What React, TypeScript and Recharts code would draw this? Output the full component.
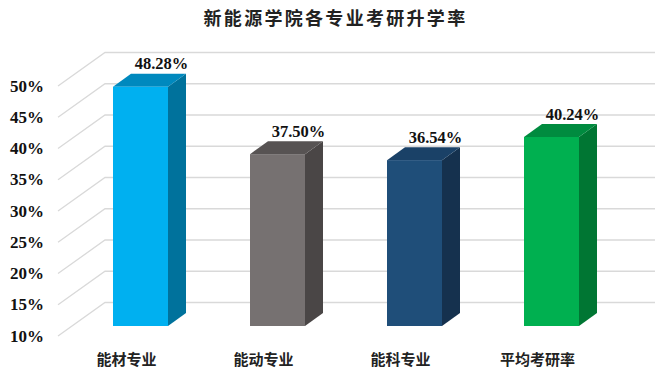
import React from "react";
import {
  BarChart,
  Bar,
  XAxis,
  YAxis,
  CartesianGrid,
  LabelList,
} from "recharts";

const categories = ["能材专业", "能动专业", "能科专业", "平均考研率"];
const rates = [48.28, 37.5, 36.54, 40.24];
const yTicks = [10, 15, 20, 25, 30, 35, 40, 45, 50];

// front / top / side colours per bar
const faceColors = ["#00B0F0", "#767171", "#1F4E79", "#00B050"];
const topColors = ["#0089BE", "#575353", "#1A4167", "#008B3F"];
const sideColors = ["#00729C", "#4A4646", "#15314E", "#007633"];

const data = categories.map((name, i) => ({ name, rate: rates[i] }));

const DX = 18; // depth offset of the boxes
const DY = 13;

const serif = "Liberation Serif";
const cjk = "Noto Sans CJK SC";

const Box3D = (props: any) => {
  const { x, y, width, height, index } = props;
  const r = x + width;
  const b = y + height;
  return (
    <g>
      <path
        d={`M${r},${y} L${r + DX},${y - DY} L${r + DX},${b - DY} L${r},${b} Z`}
        fill={sideColors[index]}
      />
      <path
        d={`M${x},${y} L${x + DX},${y - DY} L${r + DX},${y - DY} L${r},${y} Z`}
        fill={topColors[index]}
      />
      <rect x={x} y={y} width={width} height={height} fill={faceColors[index]} />
    </g>
  );
};

const gridLine = (p: any) => {
  const y = p.y1;
  return (
    <path
      key={p.key}
      d={`M58,${y + 10} L105,${y - 23.5} L655,${y - 23.5}`}
      stroke="#D9D9D9"
      strokeWidth={1.3}
      fill="none"
    />
  );
};

const YTick = (props: any) => {
  const { y, payload } = props;
  return (
    <text
      x={44}
      y={y + 10}
      textAnchor="end"
      dominantBaseline="central"
      style={{ fontFamily: serif, fontWeight: "bold", fontSize: 17 }}
      fill="#111"
    >
      {payload.value}%
    </text>
  );
};

const XTick = (props: any) => {
  const { x, payload } = props;
  return (
    <text
      x={x - 14}
      y={358}
      textAnchor="middle"
      dominantBaseline="central"
      style={{ fontFamily: cjk, fontWeight: "bold", fontSize: 15 }}
      fill="#222"
    >
      {payload.value}
    </text>
  );
};

const ValueLabel = (props: any) => {
  const { x, y, width, value } = props;
  return (
    <text
      x={x + width / 2 + 21}
      y={y - 23}
      textAnchor="middle"
      dominantBaseline="central"
      style={{ fontFamily: serif, fontWeight: "bold", fontSize: 16.5 }}
      fill="#111"
    >
      {value.toFixed(2)}%
    </text>
  );
};

export default function App() {
  return (
    <div
      style={{
        position: "absolute",
        left: 0,
        top: 0,
        width: 671,
        height: 384,
        background: "#fff",
      }}
    >
      <div
        style={{
          position: "absolute",
          top: 4,
          left: 0,
          width: 671,
          textAlign: "center",
          fontFamily: cjk,
          fontWeight: "bold",
          fontSize: 18,
          letterSpacing: 2.3,
          color: "#222",
        }}
      >
        新能源学院各专业考研升学率
      </div>
      <BarChart
        width={671}
        height={384}
        data={data}
        margin={{ top: 76, right: 51, left: 0, bottom: 28 }}
        barSize={55}
      >
        <CartesianGrid vertical={false} horizontal={gridLine} />
        <XAxis
          dataKey="name"
          axisLine={false}
          tickLine={false}
          height={30}
          tick={<XTick />}
          interval={0}
        />
        <YAxis
          domain={[10, 50]}
          ticks={yTicks}
          width={72}
          axisLine={false}
          tickLine={false}
          tick={<YTick />}
          interval={0}
        />
        <Bar dataKey="rate" shape={<Box3D />} isAnimationActive={false}>
          <LabelList dataKey="rate" content={<ValueLabel />} />
        </Bar>
      </BarChart>
    </div>
  );
}
